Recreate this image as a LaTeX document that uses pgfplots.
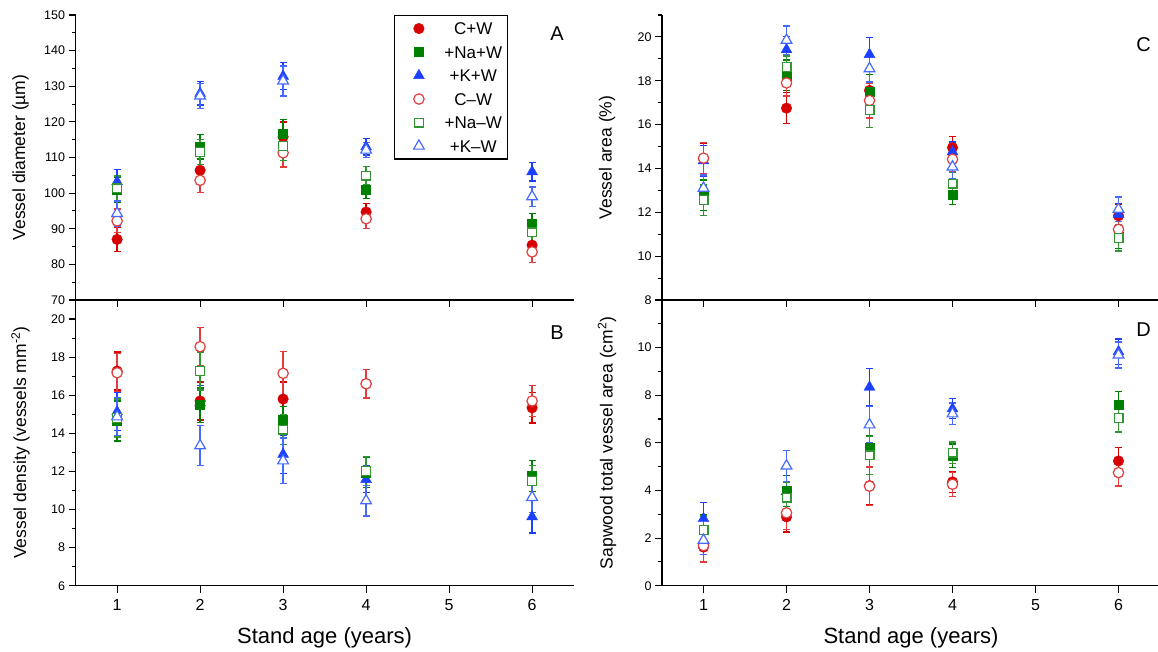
\documentclass[border=0pt]{standalone}
\usepackage{fontspec}
\setmainfont{Liberation Sans}
\usepackage{pgfplots}
\pgfplotsset{compat=1.18}

\definecolor{cRed}{RGB}{214,0,0}
\definecolor{cGreen}{RGB}{0,128,0}
\definecolor{cBlue}{RGB}{28,64,255}
\definecolor{cRedL}{RGB}{228,60,60}
\definecolor{cGreenL}{RGB}{50,150,50}
\definecolor{cBlueL}{RGB}{70,105,255}

\tikzset{tag/.style={font=\fontsize{20}{22}\selectfont}}

\pgfplotsset{
  panel/.style={
    scale only axis, width=498pt,
    xmin=0.5, xmax=6.5, xtick={1,...,6},
    axis x line*=bottom, axis y line*=left,
    axis line style={line width=1.1pt, -},
    tick align=outside, major tick length=7pt, minor tick length=4pt,
    every tick/.style={line width=1.1pt, black},
    minor y tick num=1,
    /pgf/number format/assume math mode=true,
    yticklabel style={font=\fontsize{12.5}{14}\selectfont},
    xticklabel style={font=\fontsize{16}{18}\selectfont, yshift=-3pt},
    ylabel style={at={([xshift=-55pt]axis description cs:0,0.5)}, anchor=center,
      font=\fontsize{17.5}{20}\selectfont},
    xlabel style={at={([yshift=-52pt]axis description cs:0.5,0)}, anchor=center,
      font=\fontsize{22}{24}\selectfont},
    clip=false,
  },
  errs/.style={
    error bars/y dir=both, error bars/y explicit,
    error bars/error bar style={line width=1.3pt, solid},
    error bars/error mark options={rotate=90, mark size=3.5pt, line width=1.3pt, #1},
  },
  legimg/.style={legend image code/.code={%
    \path (-21pt,0pt) (23pt,0pt);
    \draw[##1] plot coordinates {(0pt,0pt)};}},
  % filled symbols
  fil/.style n args={3}{only marks, mark=#1, mark size=#2, color=#3,
    mark options={line width=0.4pt, solid}, errs=#3, legimg},
  % hollow symbols (white inside)
  opn/.style n args={3}{only marks, mark=#1, mark size=#2, color=#3,
    mark options={line width=1.2pt, solid, fill=white, draw=#3}, errs=#3, legimg},
  CW/.style={fil={*}{5.3pt}{cRed}},
  NaW/.style={fil={square*}{4.5pt}{cGreen}},
  KW/.style={fil={triangle*}{6.3pt}{cBlue}},
  CmW/.style={opn={*}{5.2pt}{cRedL}},
  NamW/.style={opn={square*}{4.4pt}{cGreenL}},
  KmW/.style={opn={triangle*}{6.2pt}{cBlueL}},
}

\begin{document}
\begin{tikzpicture}
\path[use as bounding box] (0,0) rectangle (1158pt,652pt);

% ---------------- A: vessel diameter ----------------
\begin{axis}[panel, at={(75.6pt,352pt)}, anchor=south west, height=285pt,
  ymin=70, ymax=150, ytick={70,80,...,150}, xticklabels={},
  ylabel={Vessel diameter (µm)},
  legend style={at={(axis description cs:0.639,1)}, anchor=north west,
    draw=black, line width=1.1pt, font=\fontsize{17}{19}\selectfont,
    inner ysep=5pt, row sep=7.5pt, nodes={text height=12pt, text depth=0pt}},
  legend cell align=center]
\addplot[CW] coordinates {(1,87.0) +- (0,3.3) (2,106.4) +- (0,3.2) (3,115.8) +- (0,4.2) (4,94.7) +- (0,2.4) (6,85.4) +- (0,2.5)};
\addplot[NaW] coordinates {(1,101.0) +- (0,3.5) (2,113.0) +- (0,3.4) (3,116.7) +- (0,4.0) (4,101.0) +- (0,2.5) (6,91.3) +- (0,3.0)};
\addplot[KW] coordinates {(1,103.2) +- (0,3.4) (2,128.0) +- (0,3.3) (3,132.8) +- (0,3.8) (4,113.0) +- (0,2.3) (6,106.0) +- (0,2.6)};
\addplot[CmW] coordinates {(1,92.2) +- (0,3.3) (2,103.6) +- (0,3.5) (3,111.3) +- (0,4.0) (4,92.8) +- (0,2.8) (6,83.5) +- (0,3.0)};
\addplot[NamW] coordinates {(1,101.3) +- (0,3.5) (2,111.6) +- (0,3.5) (3,113.2) +- (0,4.0) (4,104.9) +- (0,2.5) (6,89.0) +- (0,3.0)};
\addplot[KmW] coordinates {(1,94.3) +- (0,3.5) (2,127.3) +- (0,3.5) (3,131.5) +- (0,4.2) (4,112.1) +- (0,2.2) (6,99.0) +- (0,2.7)};
\legend{C+W, +Na+W, +K+W, C–W, +Na–W, +K–W}
\node[tag] at (axis description cs:0.967,0.933) {A};
\end{axis}

% ---------------- B: vessel density ----------------
\begin{axis}[panel, at={(75.6pt,66.3pt)}, anchor=south west, height=285.7pt,
  ymin=6, ymax=21, ytick={6,8,...,20}, minor ytick={7,9,...,19},
  ylabel={Vessel density (vessels mm\textsuperscript{-2})},
  xlabel={Stand age (years)}]
\addplot[KW] coordinates {(1,15.13) +- (0,1.0) (2,15.6) +- (0,0.9) (3,12.9) +- (0,1.0) (4,11.58) +- (0,0.7) (6,9.62) +- (0,0.85)};
\addplot[CW] coordinates {(1,17.27) +- (0,1.0) (2,15.7) +- (0,1.0) (3,15.8) +- (0,0.9) (4,16.6) +- (0,0.75) (6,15.34) +- (0,0.8)};
\addplot[NaW] coordinates {(1,14.64) +- (0,1.05) (2,15.48) +- (0,0.9) (3,14.7) +- (0,0.7) (4,11.95) +- (0,0.8) (6,11.76) +- (0,0.8)};
\addplot[CmW] coordinates {(1,17.18) +- (0,1.0) (2,18.55) +- (0,1.0) (3,17.15) +- (0,1.15) (4,16.6) +- (0,0.75) (6,15.7) +- (0,0.8)};
\addplot[NamW] coordinates {(1,14.8) +- (0,1.0) (2,17.27) +- (0,1.0) (3,14.2) +- (0,0.8) (4,12.02) +- (0,0.75) (6,11.5) +- (0,0.8)};
\addplot[KmW] coordinates {(1,14.87) +- (0,1.0) (2,13.35) +- (0,1.05) (3,12.56) +- (0,1.2) (4,10.46) +- (0,0.8) (6,10.64) +- (0,0.8)};
\node[tag] at (axis description cs:0.967,0.886) {B};
\end{axis}

% ---------------- C: vessel area ----------------
\begin{axis}[panel, at={(662pt,352pt)}, anchor=south west, height=285pt,
  ymin=8, ymax=21, ytick={8,10,...,20}, minor ytick={9,11,...,21}, xticklabels={},
  ylabel={Vessel area (\%)}]
\addplot[CW] coordinates {(1,14.45) +- (0,0.7) (2,16.75) +- (0,0.7) (3,17.56) +- (0,0.4) (4,14.95) +- (0,0.5) (6,11.84) +- (0,0.5)};
\addplot[NaW] coordinates {(1,12.78) +- (0,0.7) (2,18.25) +- (0,0.7) (3,17.52) +- (0,0.75) (4,12.81) +- (0,0.45) (6,10.9) +- (0,0.55)};
\addplot[KW] coordinates {(1,14.35) +- (0,0.7) (2,19.42) +- (0,0.6) (3,19.2) +- (0,0.77) (4,14.76) +- (0,0.45) (6,11.9) +- (0,0.5)};
\addplot[CmW] coordinates {(1,14.47) +- (0,0.7) (2,17.9) +- (0,0.6) (3,17.1) +- (0,0.8) (4,14.42) +- (0,0.55) (6,11.22) +- (0,0.5)};
\addplot[NamW] coordinates {(1,12.55) +- (0,0.7) (2,18.63) +- (0,0.5) (3,16.66) +- (0,0.8) (4,13.31) +- (0,0.5) (6,10.84) +- (0,0.6)};
\addplot[KmW] coordinates {(1,13.1) +- (0,0.6) (2,19.85) +- (0,0.65) (3,18.55) +- (0,0.6) (4,14.07) +- (0,0.55) (6,12.14) +- (0,0.56)};
\node[tag] at (axis description cs:0.967,0.897) {C};
\end{axis}

% ---------------- D: sapwood total vessel area ----------------
\begin{axis}[panel, at={(662pt,66.3pt)}, anchor=south west, height=285.7pt,
  ymin=0, ymax=12, ytick={0,2,...,10}, minor ytick={1,3,...,11},
  ylabel={Sapwood total vessel area (cm\textsuperscript{2})},
  xlabel={Stand age (years)}]
\addplot[KW] coordinates {(1,2.82) +- (0,0.66) (2,3.95) +- (0,0.4) (3,8.34) +- (0,0.77) (4,7.43) +- (0,0.42) (6,9.83) +- (0,0.53)};
\addplot[CW] coordinates {(1,1.62) +- (0,0.62) (2,2.89) +- (0,0.63) (3,4.2) +- (0,0.8) (4,4.36) +- (0,0.45) (6,5.24) +- (0,0.56)};
\addplot[NaW] coordinates {(1,2.35) +- (0,0.65) (2,3.97) +- (0,0.65) (3,5.8) +- (0,0.5) (4,5.45) +- (0,0.5) (6,7.6) +- (0,0.57)};
\addplot[CmW] coordinates {(1,1.68) +- (0,0.68) (2,3.06) +- (0,0.7) (3,4.18) +- (0,0.8) (4,4.26) +- (0,0.5) (6,4.75) +- (0,0.56)};
\addplot[NamW] coordinates {(1,2.33) +- (0,0.6) (2,3.7) +- (0,0.65) (3,5.47) +- (0,0.8) (4,5.59) +- (0,0.45) (6,7.04) +- (0,0.58)};
\addplot[KmW] coordinates {(1,1.91) +- (0,0.6) (2,5.03) +- (0,0.65) (3,6.76) +- (0,0.77) (4,7.22) +- (0,0.45) (6,9.69) +- (0,0.55)};
\node[tag] at (axis description cs:0.967,0.897) {D};
\end{axis}
\end{tikzpicture}
\end{document}
